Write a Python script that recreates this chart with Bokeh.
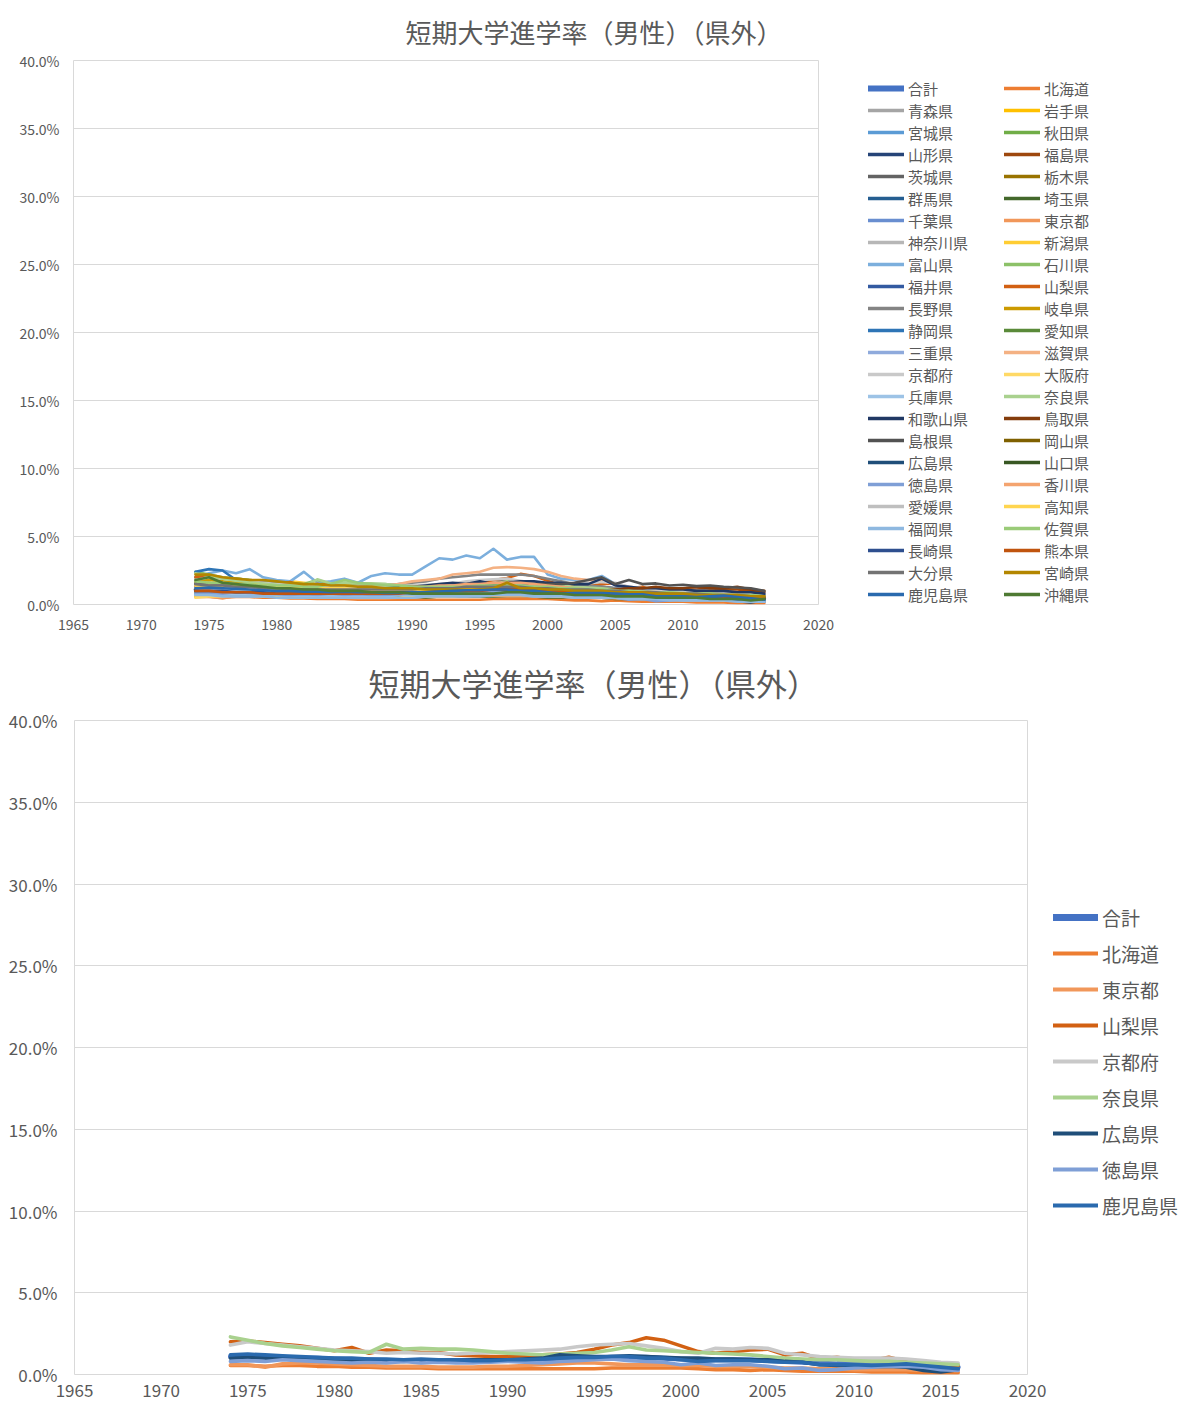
from bokeh.plotting import figure
from bokeh.models import (Legend, LegendItem, NumeralTickFormatter,
                          FixedTicker, Range1d)
from bokeh.layouts import row
from bokeh.embed import file_html
from bokeh.resources import INLINE

TITLE = "短期大学進学率（男性）（県外）"
YEARS = list(range(1974, 2017))
X_TICKS = [1965, 1970, 1975, 1980, 1985, 1990, 1995, 2000, 2005, 2010, 2015, 2020]
Y_TICKS = [0.0, 0.05, 0.10, 0.15, 0.20, 0.25, 0.30, 0.35, 0.40]

# values in percent, 1974..2016
GOUKEI = [1.1, 1.15, 1.1, 1.05, 1.0, 1.0, 0.95, 0.9, 0.9, 0.85,
          0.85, 0.85, 0.85, 0.85, 0.85, 0.85, 0.85, 0.9, 0.95, 0.95,
          1.0, 1.0, 1.05, 1.05, 1.05, 1.0, 0.95, 0.9, 0.9, 0.9,
          0.9, 0.85, 0.8, 0.75, 0.7, 0.65, 0.65, 0.6, 0.6, 0.6,
          0.55, 0.5, 0.45]
HOKKAIDO = [0.55, 0.55, 0.5, 0.55, 0.55, 0.5, 0.5, 0.45, 0.45, 0.4,
            0.4, 0.4, 0.35, 0.35, 0.35, 0.35, 0.35, 0.35, 0.35, 0.35,
            0.35, 0.35, 0.4, 0.4, 0.4, 0.4, 0.4, 0.35, 0.3, 0.3,
            0.25, 0.3, 0.25, 0.2, 0.2, 0.2, 0.2, 0.15, 0.15, 0.15,
            0.1, 0.1, 0.1]
AOMORI = [1.3, 1.2, 1.1, 1.1, 1.0, 1.0, 0.9, 0.9, 0.9, 0.8,
          0.8, 0.9, 0.9, 0.9, 0.9, 1.0, 1.0, 1.1, 1.1, 1.2,
          1.2, 1.3, 1.3, 1.3, 1.2, 1.2, 1.1, 1.1, 1.0, 1.0,
          0.9, 0.9, 0.8, 0.8, 0.7, 0.7, 0.6, 0.6, 0.6, 0.5,
          0.5, 0.5, 0.4]
IWATE = [0.9, 1.0, 1.0, 1.1, 1.0, 1.0, 0.9, 0.9, 0.9, 0.8,
         0.8, 0.8, 0.7, 0.7, 0.7, 0.8, 0.8, 0.8, 0.9, 0.9,
         0.9, 1.0, 1.0, 1.7, 1.1, 1.0, 0.9, 0.9, 0.8, 0.8,
         0.7, 0.7, 0.6, 0.6, 0.6, 0.5, 0.5, 0.5, 0.4, 0.4,
         0.4, 0.4, 0.3]
MIYAGI = [1.1, 1.0, 1.0, 0.9, 0.9, 0.8, 0.8, 0.8, 0.7, 0.7,
          0.7, 0.7, 0.7, 0.7, 0.7, 0.7, 0.8, 0.8, 0.8, 0.9,
          0.9, 0.9, 0.9, 0.9, 0.9, 0.8, 0.8, 0.7, 0.7, 0.7,
          0.6, 0.6, 0.5, 0.5, 0.4, 0.4, 0.4, 0.3, 0.3, 0.3,
          0.3, 0.2, 0.2]
AKITA = [1.5, 1.6, 1.4, 1.3, 1.3, 1.2, 1.2, 1.1, 1.1, 1.0,
         1.0, 1.0, 0.9, 0.9, 0.9, 0.9, 0.9, 1.0, 1.0, 1.0,
         1.1, 1.1, 1.1, 1.1, 1.0, 1.0, 0.9, 0.9, 0.8, 0.8,
         0.8, 0.7, 0.7, 0.6, 0.6, 0.6, 0.5, 0.5, 0.5, 0.5,
         0.4, 0.4, 0.4]
YAMAGATA = [1.2, 1.1, 1.1, 1.0, 1.0, 1.0, 0.9, 0.9, 0.9, 0.9,
            0.9, 0.9, 1.0, 1.0, 1.0, 1.1, 1.2, 1.3, 1.4, 1.5,
            1.5, 1.6, 1.5, 1.6, 1.6, 1.5, 1.5, 1.4, 1.4, 1.4,
            1.3, 1.2, 1.1, 1.1, 1.0, 1.0, 0.9, 0.9, 0.9, 0.8,
            0.8, 0.7, 0.7]
FUKUSHIMA = [1.0, 1.0, 0.9, 0.9, 0.9, 0.8, 0.8, 0.8, 0.8, 0.8,
             0.8, 0.8, 0.8, 0.8, 0.9, 0.9, 1.0, 1.0, 1.1, 1.1,
             1.2, 1.2, 1.3, 1.3, 1.3, 1.2, 1.2, 1.2, 1.1, 1.1,
             1.1, 1.1, 1.1, 1.0, 1.1, 1.2, 1.1, 1.1, 1.2, 1.1,
             1.1, 1.0, 0.9]
IBARAKI = [1.3, 1.2, 1.2, 1.1, 1.1, 1.0, 1.0, 1.0, 0.9, 0.9,
           0.9, 0.9, 1.0, 1.0, 1.0, 1.1, 1.2, 1.3, 1.4, 1.5,
           1.6, 1.7, 1.8, 1.7, 1.7, 1.6, 1.5, 1.4, 1.3, 1.3,
           1.2, 1.1, 1.0, 1.0, 0.9, 0.9, 0.9, 0.8, 0.8, 0.8,
           0.7, 0.7, 0.7]
TOCHIGI = [2.0, 2.1, 1.9, 1.9, 1.8, 1.7, 1.6, 1.5, 1.5, 1.4,
           1.4, 1.3, 1.3, 1.2, 1.2, 1.2, 1.2, 1.2, 1.3, 1.3,
           1.3, 1.3, 1.4, 1.4, 1.4, 1.3, 1.3, 1.2, 1.1, 1.1,
           1.0, 1.0, 0.9, 0.9, 0.8, 0.8, 0.8, 0.7, 0.7, 0.7,
           0.6, 0.6, 0.6]
GUNMA = [1.4, 1.3, 1.3, 1.2, 1.2, 1.1, 1.1, 1.0, 1.0, 1.0,
         1.0, 1.0, 1.0, 1.0, 1.0, 1.1, 1.1, 1.1, 1.2, 1.2,
         1.2, 1.3, 1.3, 1.3, 1.2, 1.2, 1.1, 1.1, 1.0, 1.0,
         0.9, 0.9, 0.8, 0.8, 0.7, 0.7, 0.7, 0.6, 0.6, 0.6,
         0.5, 0.5, 0.5]
SAITAMA = [0.8, 0.8, 0.8, 0.7, 0.7, 0.7, 0.6, 0.6, 0.6, 0.6,
           0.6, 0.6, 0.5, 0.5, 0.5, 0.5, 0.5, 0.5, 0.6, 0.6,
           0.6, 0.6, 0.6, 0.6, 0.6, 0.6, 0.5, 0.5, 0.5, 0.5,
           0.5, 0.4, 0.4, 0.4, 0.4, 0.4, 0.3, 0.3, 0.3, 0.3,
           0.3, 0.3, 0.3]
CHIBA = [0.9, 0.9, 0.8, 0.8, 0.8, 0.7, 0.7, 0.7, 0.6, 0.6,
         0.6, 0.6, 0.6, 0.6, 0.6, 0.6, 0.6, 0.7, 0.7, 0.7,
         0.7, 0.7, 0.8, 0.8, 0.7, 0.7, 0.7, 0.6, 0.6, 0.6,
         0.5, 0.5, 0.5, 0.4, 0.4, 0.4, 0.4, 0.3, 0.3, 0.3,
         0.3, 0.3, 0.2]
TOKYO = [0.6, 0.6, 0.45, 0.65, 0.7, 0.7, 0.65, 0.6, 0.55, 0.5,
         0.5, 0.5, 0.45, 0.45, 0.45, 0.5, 0.5, 0.55, 0.6, 0.65,
         0.7, 0.7, 0.65, 0.6, 0.6, 0.6, 0.55, 0.55, 0.5, 0.5,
         0.5, 0.45, 0.4, 0.4, 0.35, 0.35, 0.3, 0.3, 0.3, 0.3,
         0.25, 0.25, 0.25]
KANAGAWA = [0.7, 0.7, 0.7, 0.6, 0.6, 0.6, 0.6, 0.5, 0.5, 0.5,
            0.5, 0.5, 0.5, 0.5, 0.5, 0.5, 0.5, 0.6, 0.6, 0.6,
            0.6, 0.7, 0.7, 0.7, 0.7, 0.6, 0.6, 0.6, 0.5, 0.5,
            0.5, 0.5, 0.4, 0.4, 0.4, 0.4, 0.3, 0.3, 0.3, 0.3,
            0.3, 0.2, 0.2]
NIIGATA = [0.6, 0.8, 1.0, 1.8, 1.7, 1.7, 1.6, 1.7, 1.6, 1.5,
           1.6, 1.5, 1.5, 1.4, 1.3, 1.2, 1.2, 1.1, 1.1, 1.1,
           1.1, 1.2, 1.2, 1.3, 1.2, 1.2, 1.1, 1.1, 1.0, 1.0,
           1.0, 0.9, 0.9, 0.8, 0.8, 0.7, 0.7, 0.7, 0.6, 0.6,
           0.6, 0.5, 0.5]
TOYAMA = [2.0, 2.3, 2.5, 2.3, 2.6, 2.0, 1.8, 1.7, 2.4, 1.6,
          1.7, 1.9, 1.6, 2.1, 2.3, 2.2, 2.2, 2.8, 3.4, 3.3,
          3.6, 3.4, 4.1, 3.3, 3.5, 3.5, 2.2, 1.9, 1.8, 1.8,
          2.1, 1.5, 1.0, 0.9, 0.7, 0.6, 0.5, 0.45, 0.4, 0.4,
          0.35, 0.3, 0.3]
ISHIKAWA = [2.4, 2.2, 2.0, 1.9, 1.8, 1.7, 1.6, 1.6, 1.5, 1.8,
            1.5, 1.6, 1.5, 1.5, 1.5, 1.4, 1.4, 1.3, 1.3, 1.3,
            1.3, 1.3, 1.4, 1.4, 1.3, 1.3, 1.2, 1.2, 1.1, 1.1,
            1.0, 1.0, 0.9, 0.9, 0.8, 0.8, 0.8, 0.7, 0.7, 0.7,
            0.6, 0.6, 0.6]
FUKUI = [1.1, 1.1, 1.0, 1.0, 1.0, 0.9, 0.9, 0.9, 0.9, 0.8,
         0.8, 0.8, 0.8, 0.9, 0.9, 0.9, 1.0, 1.0, 1.1, 1.1,
         1.2, 1.2, 1.2, 1.2, 1.2, 1.1, 1.1, 1.0, 1.0, 1.0,
         0.9, 0.9, 0.9, 0.8, 0.8, 0.7, 0.7, 0.7, 0.7, 0.6,
         0.6, 0.6, 0.5]
YAMANASHI = [2.0, 2.05, 1.95, 1.85, 1.75, 1.6, 1.45, 1.65, 1.3, 1.5,
             1.45, 1.35, 1.35, 1.2, 1.15, 1.1, 1.1, 1.15, 1.2, 1.25,
             1.35, 1.55, 1.8, 1.95, 2.25, 2.1, 1.75, 1.4, 1.3, 1.4,
             1.5, 1.55, 1.2, 1.3, 0.95, 1.05, 0.9, 0.85, 1.05, 0.8,
             0.7, 0.6, 0.55]
NAGANO = [1.6, 1.5, 1.5, 1.4, 1.4, 1.3, 1.3, 1.2, 1.2, 1.2,
          1.2, 1.3, 1.3, 1.3, 1.4, 1.5, 1.6, 1.7, 1.9, 2.0,
          2.1, 2.2, 2.2, 2.2, 2.2, 2.1, 1.9, 1.7, 1.5, 1.4,
          1.3, 1.2, 1.1, 1.0, 1.0, 0.9, 0.9, 0.9, 0.8, 0.8,
          0.8, 0.7, 0.7]
GIFU = [1.7, 1.8, 1.7, 1.6, 1.5, 1.5, 1.4, 1.4, 1.3, 1.3,
        1.3, 1.2, 1.2, 1.2, 1.1, 1.1, 1.1, 1.1, 1.1, 1.2,
        1.2, 1.2, 1.3, 1.3, 1.3, 1.2, 1.2, 1.1, 1.1, 1.0,
        1.0, 1.0, 0.9, 0.9, 0.8, 0.8, 0.8, 0.7, 0.7, 0.7,
        0.6, 0.6, 0.6]
SHIZUOKA = [2.4, 2.6, 2.5, 1.8, 1.7, 1.6, 1.5, 1.4, 1.4, 1.3,
            1.2, 1.2, 1.1, 1.1, 1.1, 1.1, 1.0, 1.0, 1.0, 1.0,
            1.1, 1.1, 1.1, 1.1, 1.0, 1.0, 1.0, 0.9, 0.9, 0.9,
            0.8, 0.8, 0.7, 0.7, 0.6, 0.6, 0.6, 0.5, 0.5, 0.5,
            0.4, 0.4, 0.4]
AICHI = [0.9, 1.0, 0.9, 0.9, 0.8, 0.8, 0.8, 0.7, 0.7, 0.7,
         0.7, 0.7, 0.6, 0.6, 0.6, 0.6, 0.6, 0.6, 0.7, 0.7,
         0.7, 0.7, 0.8, 0.8, 0.8, 0.7, 0.7, 0.7, 0.6, 0.6,
         0.6, 0.6, 0.5, 0.5, 0.5, 0.4, 0.4, 0.4, 0.4, 0.4,
         0.4, 0.3, 0.3]
MIE = [1.0, 1.0, 0.9, 0.9, 0.9, 0.8, 0.8, 0.8, 0.8, 0.7,
       0.7, 0.7, 0.7, 0.7, 0.7, 0.8, 0.8, 0.8, 0.9, 0.9,
       0.9, 0.9, 1.0, 1.0, 0.9, 0.9, 0.9, 0.8, 0.8, 0.8,
       0.7, 0.7, 0.6, 0.6, 0.6, 0.5, 0.5, 0.5, 0.4, 0.4,
       0.4, 0.4, 0.3]
SHIGA = [1.0, 1.1, 1.2, 1.3, 1.2, 1.2, 1.1, 1.0, 1.0, 1.1,
         1.1, 1.2, 1.2, 1.3, 1.4, 1.5, 1.7, 1.8, 1.9, 2.2,
         2.3, 2.4, 2.7, 2.75, 2.7, 2.6, 2.4, 2.1, 1.9, 1.8,
         1.7, 1.5, 1.3, 1.2, 1.1, 1.0, 0.9, 0.9, 0.8, 0.8,
         0.7, 0.7, 0.6]
KYOTO = [1.8, 2.0, 1.9, 1.8, 1.7, 1.6, 1.5, 1.45, 1.4, 1.3,
         1.35, 1.3, 1.3, 1.25, 1.3, 1.35, 1.4, 1.45, 1.5, 1.55,
         1.7, 1.8, 1.85, 1.9, 1.75, 1.6, 1.4, 1.3, 1.6, 1.55,
         1.65, 1.6, 1.3, 1.2, 1.1, 1.05, 1.0, 1.0, 1.0, 0.95,
         0.85, 0.75, 0.7]
OSAKA = [0.5, 0.6, 0.6, 0.7, 0.7, 0.6, 0.6, 0.6, 0.6, 0.6,
         0.5, 0.5, 0.5, 0.5, 0.5, 0.5, 0.6, 0.6, 0.6, 0.6,
         0.7, 0.7, 0.7, 0.7, 0.7, 0.7, 0.6, 0.6, 0.6, 0.6,
         0.5, 0.5, 0.5, 0.5, 0.4, 0.4, 0.4, 0.4, 0.4, 0.3,
         0.3, 0.3, 0.3]
HYOGO = [0.8, 0.8, 0.8, 0.7, 0.7, 0.7, 0.7, 0.6, 0.6, 0.6,
         0.6, 0.6, 0.6, 0.6, 0.6, 0.7, 0.7, 0.7, 0.7, 0.8,
         0.8, 0.8, 0.9, 0.9, 0.8, 0.8, 0.8, 0.7, 0.7, 0.7,
         0.6, 0.6, 0.6, 0.5, 0.5, 0.5, 0.4, 0.4, 0.4, 0.4,
         0.3, 0.3, 0.3]
NARA = [2.3, 2.1, 1.9, 1.75, 1.65, 1.55, 1.45, 1.4, 1.35, 1.85,
        1.55, 1.6, 1.55, 1.55, 1.5, 1.4, 1.3, 1.25, 1.2, 1.25,
        1.3, 1.35, 1.5, 1.7, 1.5, 1.45, 1.4, 1.35, 1.3, 1.25,
        1.2, 1.1, 1.0, 0.95, 0.9, 0.9, 0.85, 0.8, 0.8, 0.75,
        0.7, 0.65, 0.6]
WAKAYAMA = [1.3, 1.3, 1.2, 1.2, 1.1, 1.1, 1.0, 1.0, 1.0, 1.0,
            1.0, 1.0, 1.1, 1.1, 1.2, 1.3, 1.3, 1.4, 1.5, 1.6,
            1.5, 1.7, 1.5, 1.6, 1.7, 1.7, 1.6, 1.6, 1.5, 1.5,
            1.9, 1.4, 1.3, 1.2, 1.2, 1.1, 1.1, 1.0, 1.0, 1.0,
            0.9, 0.9, 0.8]
TOTTORI = [1.1, 1.1, 1.0, 1.0, 1.0, 0.9, 0.9, 0.9, 0.9, 0.9,
           0.9, 0.9, 0.9, 1.0, 1.0, 1.0, 1.1, 1.1, 1.1, 1.2,
           1.2, 1.2, 1.3, 1.2, 1.2, 1.2, 1.1, 1.1, 1.1, 1.0,
           1.0, 1.1, 1.2, 1.2, 1.3, 1.2, 1.2, 1.3, 1.2, 1.2,
           1.3, 1.1, 1.0]
SHIMANE = [1.5, 1.4, 1.3, 1.3, 1.2, 1.2, 1.1, 1.1, 1.0, 1.0,
           1.0, 1.0, 1.1, 1.0, 1.1, 1.1, 1.2, 1.2, 1.3, 1.3,
           1.4, 1.5, 1.4, 1.5, 1.4, 1.5, 1.5, 1.5, 1.6, 1.8,
           2.0, 1.5, 1.8, 1.5, 1.55, 1.4, 1.45, 1.35, 1.4, 1.3,
           1.25, 1.2, 1.0]
OKAYAMA = [1.2, 1.2, 1.1, 1.1, 1.0, 1.0, 1.0, 1.0, 0.9, 0.9,
           0.9, 0.9, 0.9, 0.9, 0.9, 0.9, 1.0, 1.0, 1.0, 1.0,
           1.1, 1.1, 1.1, 1.1, 1.1, 1.0, 1.0, 1.0, 0.9, 0.9,
           0.9, 0.8, 0.8, 0.8, 0.7, 0.7, 0.7, 0.7, 0.6, 0.6,
           0.6, 0.6, 0.5]
HIROSHIMA = [1.0, 1.05, 1.0, 1.0, 0.95, 0.95, 0.9, 0.85, 0.8, 0.8,
             0.8, 0.85, 0.85, 0.85, 0.9, 0.9, 0.9, 0.95, 1.0, 1.2,
             1.15, 1.1, 1.1, 1.15, 1.1, 1.05, 1.0, 1.0, 0.95, 0.95,
             0.9, 0.9, 0.8, 0.75, 0.6, 0.55, 0.55, 0.5, 0.5, 0.45,
             0.25, 0.15, 0.3]
YAMAGUCHI = [1.0, 1.0, 1.0, 0.9, 0.9, 0.9, 0.8, 0.8, 0.8, 0.8,
             0.8, 0.8, 0.8, 0.8, 0.8, 0.8, 0.8, 0.9, 0.9, 0.9,
             0.9, 1.0, 1.0, 1.0, 1.0, 0.9, 0.9, 0.9, 0.8, 0.8,
             0.8, 0.7, 0.7, 0.7, 0.6, 0.6, 0.6, 0.6, 0.5, 0.5,
             0.5, 0.5, 0.4]
TOKUSHIMA = [0.8, 0.85, 0.8, 0.9, 0.85, 0.8, 0.75, 0.7, 0.75, 0.7,
             0.8, 0.7, 0.75, 0.7, 0.7, 0.75, 0.8, 0.75, 0.7, 0.8,
             0.85, 0.9, 0.95, 0.85, 0.8, 0.75, 0.6, 0.7, 0.55, 0.6,
             0.6, 0.5, 0.35, 0.4, 0.25, 0.3, 0.4, 0.45, 0.5, 0.5,
             0.45, 0.3, 0.25]
KAGAWA = [1.3, 1.4, 1.3, 1.2, 1.2, 1.1, 1.1, 1.0, 1.0, 1.0,
          1.0, 1.0, 1.0, 1.1, 1.1, 1.2, 1.3, 1.3, 1.4, 1.4,
          1.5, 1.5, 1.6, 1.6, 1.6, 1.5, 1.4, 1.3, 1.2, 1.1,
          1.0, 1.0, 0.9, 0.9, 0.8, 0.8, 0.8, 0.7, 0.7, 0.7,
          0.6, 0.6, 0.6]
EHIME = [1.2, 1.1, 1.1, 1.0, 1.0, 1.0, 0.9, 0.9, 0.9, 0.9,
         0.9, 0.9, 0.9, 1.0, 1.0, 1.0, 1.1, 1.1, 1.2, 1.2,
         1.3, 1.3, 1.3, 1.4, 1.4, 1.3, 1.2, 1.2, 1.1, 1.1,
         1.0, 1.0, 0.9, 0.9, 0.8, 0.8, 0.8, 0.7, 0.7, 0.7,
         0.6, 0.6, 0.6]
KOCHI = [1.4, 1.3, 1.3, 1.4, 1.5, 1.4, 1.3, 1.3, 1.3, 1.2,
         1.2, 1.2, 1.1, 1.1, 1.1, 1.1, 1.1, 1.1, 1.1, 1.2,
         1.2, 1.2, 1.3, 1.3, 1.2, 1.2, 1.1, 1.1, 1.0, 1.0,
         1.0, 0.9, 0.9, 0.9, 0.8, 0.8, 0.8, 0.8, 0.7, 0.7,
         0.7, 0.6, 0.6]
FUKUOKA = [0.7, 0.7, 0.6, 0.6, 0.6, 0.6, 0.5, 0.5, 0.5, 0.5,
           0.5, 0.5, 0.5, 0.5, 0.5, 0.5, 0.5, 0.6, 0.6, 0.6,
           0.6, 0.6, 0.7, 0.7, 0.7, 0.6, 0.6, 0.6, 0.5, 0.5,
           0.5, 0.5, 0.4, 0.4, 0.4, 0.3, 0.3, 0.3, 0.3, 0.3,
           0.2, 0.2, 0.2]
SAGA = [1.7, 1.6, 1.6, 1.5, 1.5, 1.4, 1.4, 1.4, 1.3, 1.3,
        1.5, 1.8, 1.6, 1.5, 1.4, 1.4, 1.3, 1.3, 1.3, 1.3,
        1.3, 1.4, 1.4, 1.4, 1.4, 1.3, 1.3, 1.2, 1.2, 1.1,
        1.1, 1.0, 1.0, 0.9, 0.9, 0.9, 0.8, 0.8, 0.8, 0.7,
        0.7, 0.7, 0.6]
NAGASAKI = [1.0, 1.0, 1.0, 0.9, 0.9, 0.9, 0.8, 0.8, 0.8, 0.8,
            0.8, 0.8, 0.8, 0.8, 0.8, 0.9, 0.9, 0.9, 1.0, 1.0,
            1.0, 1.1, 1.1, 1.1, 1.1, 1.0, 1.0, 1.0, 0.9, 0.9,
            0.9, 0.8, 0.8, 0.8, 0.7, 0.7, 0.7, 0.6, 0.6, 0.6,
            0.5, 0.5, 0.5]
KUMAMOTO = [1.0, 1.0, 0.9, 0.9, 0.9, 0.8, 0.8, 0.8, 0.8, 0.8,
            0.8, 0.8, 0.8, 0.8, 0.8, 0.8, 0.9, 0.9, 0.9, 1.0,
            1.0, 1.0, 1.1, 1.1, 1.1, 1.0, 1.0, 0.9, 0.9, 0.9,
            0.9, 0.8, 0.8, 0.8, 0.8, 0.7, 0.7, 0.7, 0.7, 0.6,
            0.6, 0.6, 0.5]
OITA = [1.5, 1.4, 1.4, 1.3, 1.3, 1.2, 1.2, 1.1, 1.1, 1.1,
        1.1, 1.1, 1.1, 1.1, 1.1, 1.1, 1.1, 1.2, 1.2, 1.2,
        1.3, 1.3, 1.3, 1.3, 1.3, 1.2, 1.2, 1.1, 1.1, 1.1,
        1.0, 1.0, 0.9, 0.9, 0.9, 0.8, 0.8, 0.8, 0.7, 0.7,
        0.7, 0.6, 0.6]
MIYAZAKI = [2.2, 2.2, 2.0, 1.9, 1.8, 1.8, 1.7, 1.6, 1.5, 1.5,
            1.4, 1.4, 1.3, 1.3, 1.2, 1.2, 1.2, 1.1, 1.1, 1.1,
            1.1, 1.1, 1.2, 1.6, 1.2, 1.2, 1.1, 1.1, 1.0, 1.0,
            1.0, 0.9, 0.9, 0.9, 0.8, 0.8, 0.8, 0.7, 0.7, 0.7,
            0.7, 0.6, 0.6]
KAGOSHIMA = [1.2, 1.25, 1.2, 1.15, 1.1, 1.05, 1.0, 1.0, 0.95, 0.95,
             0.9, 0.95, 0.9, 0.9, 0.85, 0.85, 0.9, 0.9, 0.95, 1.0,
             1.05, 1.05, 1.1, 1.1, 1.0, 1.0, 0.9, 0.8, 0.85, 0.85,
             0.85, 0.8, 0.75, 0.75, 0.6, 0.6, 0.6, 0.55, 0.6, 0.65,
             0.55, 0.45, 0.35]
OKINAWA = [1.8, 2.0, 1.6, 1.5, 1.4, 1.3, 1.2, 1.2, 1.1, 1.1,
           1.0, 1.0, 1.0, 0.9, 0.9, 0.9, 0.8, 0.8, 0.8, 0.8,
           0.8, 0.8, 0.8, 0.9, 0.9, 0.8, 0.8, 0.8, 0.7, 0.7,
           0.7, 0.6, 0.6, 0.6, 0.5, 0.5, 0.5, 0.5, 0.4, 0.4,
           0.4, 0.3, 0.4]

SERIES_NAMES = ["合計", "北海道", "青森県", "岩手県", "宮城県", "秋田県", "山形県", "福島県",
                "茨城県", "栃木県", "群馬県", "埼玉県", "千葉県", "東京都", "神奈川県", "新潟県",
                "富山県", "石川県", "福井県", "山梨県", "長野県", "岐阜県", "静岡県", "愛知県",
                "三重県", "滋賀県", "京都府", "大阪府", "兵庫県", "奈良県", "和歌山県", "鳥取県",
                "島根県", "岡山県", "広島県", "山口県", "徳島県", "香川県", "愛媛県", "高知県",
                "福岡県", "佐賀県", "長崎県", "熊本県", "大分県", "宮崎県", "鹿児島県", "沖縄県"]
SERIES_VALUES = [GOUKEI, HOKKAIDO, AOMORI, IWATE, MIYAGI, AKITA, YAMAGATA, FUKUSHIMA,
                 IBARAKI, TOCHIGI, GUNMA, SAITAMA, CHIBA, TOKYO, KANAGAWA, NIIGATA,
                 TOYAMA, ISHIKAWA, FUKUI, YAMANASHI, NAGANO, GIFU, SHIZUOKA, AICHI,
                 MIE, SHIGA, KYOTO, OSAKA, HYOGO, NARA, WAKAYAMA, TOTTORI,
                 SHIMANE, OKAYAMA, HIROSHIMA, YAMAGUCHI, TOKUSHIMA, KAGAWA, EHIME, KOCHI,
                 FUKUOKA, SAGA, NAGASAKI, KUMAMOTO, OITA, MIYAZAKI, KAGOSHIMA, OKINAWA]
SERIES_COLORS = ["#4472C4", "#ED7D31", "#A5A5A5", "#FFC000", "#5B9BD5", "#70AD47", "#264478", "#9E480E",
                 "#636363", "#997300", "#255E91", "#43682B", "#698ED0", "#F1975A", "#B7B7B7", "#FFCD33",
                 "#7CAFDD", "#8CC168", "#335AA1", "#D26012", "#848484", "#CC9A00", "#2E75B6", "#5A8A39",
                 "#8FAADC", "#F4B183", "#C9C9C9", "#FFD966", "#9DC3E6", "#A9D18E", "#203864", "#843C0C",
                 "#525252", "#7F6000", "#1F4E79", "#385723", "#7F9FD6", "#F4A46F", "#BFBFBF", "#FFD54F",
                 "#8EB8E0", "#9ACB78", "#2E4F8F", "#C0540E", "#737373", "#B38600", "#2A6AAE", "#4E7A33"]
SUBSET = ["合計", "北海道", "東京都", "山梨県", "京都府", "奈良県", "広島県", "徳島県", "鹿児島県"]

FONT = "Noto Sans CJK JP"
GREY_TXT = "#595959"


def chart_fig(width, height, left, right, top, bottom, tick_px, standoff_x, standoff_y,
              title_px, title_offset, title_standoff, title_valign):
    p = figure(width=width, height=height, output_backend="svg", toolbar_location=None,
               x_range=Range1d(1965, 2020), y_range=Range1d(0, 0.40),
               min_border_left=left, min_border_right=right,
               min_border_top=top, min_border_bottom=bottom)
    p.title.text = TITLE
    p.title.align = "left"
    p.title.vertical_align = title_valign
    p.title.offset = title_offset
    p.title.standoff = title_standoff
    p.title.text_font = FONT
    p.title.text_font_size = title_px
    p.title.text_font_style = "normal"
    p.title.text_color = GREY_TXT
    p.xaxis.ticker = FixedTicker(ticks=X_TICKS)
    p.yaxis.ticker = FixedTicker(ticks=Y_TICKS)
    p.yaxis.formatter = NumeralTickFormatter(format="0.0%")
    for ax in (p.xaxis, p.yaxis):
        ax.axis_line_color = None
        ax.major_tick_line_color = None
        ax.minor_tick_line_color = None
        ax.major_tick_out = 0
        ax.major_tick_in = 0
        ax.minor_tick_out = 0
        ax.minor_tick_in = 0
        ax.major_label_text_font = FONT
        ax.major_label_text_font_size = tick_px
        ax.major_label_text_color = GREY_TXT
    p.xaxis.major_label_standoff = standoff_x
    p.yaxis.major_label_standoff = standoff_y
    p.xgrid.grid_line_color = None
    p.ygrid.grid_line_color = "#D9D9D9"
    p.ygrid.grid_line_width = 1
    p.outline_line_color = "#D9D9D9"
    p.outline_line_width = 1
    p.background_fill_color = "white"
    p.border_fill_color = "white"
    return p


def legend_fig(width, height, top, bottom):
    f = figure(width=width, height=height, output_backend="svg", toolbar_location=None,
               x_range=Range1d(0, 1), y_range=Range1d(0, 1),
               x_axis_location=None, y_axis_location=None,
               min_border_left=0, min_border_right=0,
               min_border_top=top, min_border_bottom=bottom)
    f.outline_line_color = None
    f.grid.visible = False
    f.background_fill_color = "white"
    f.border_fill_color = "white"
    return f


def make_legend(items, loc, glyph_w, row_h, font_px):
    return Legend(items=items, location=loc, orientation="vertical",
                  glyph_width=glyph_w, glyph_height=row_h, label_height=row_h,
                  spacing=0, padding=0, margin=0, label_standoff=4,
                  label_text_font=FONT, label_text_font_size=font_px,
                  label_text_color=GREY_TXT, border_line_color=None,
                  background_fill_alpha=0)


# ---------------- top chart ----------------
p1 = chart_fig(835, 640, 73, 17, 60, 36, "14px", 14, 14, "26px", 332, 20, "middle")
l1 = legend_fig(344, 640, 60, 36)
legend_renderers = []
for name, vals, col in zip(SERIES_NAMES, SERIES_VALUES, SERIES_COLORS):
    lw = 3.6 if name == "合計" else 2.6
    p1.line(YEARS[:len(vals)], [v / 100 for v in vals], line_color=col, line_width=lw,
            line_join="round", line_cap="round")
    lr = l1.line([0, 1], [-5, -5], line_color=col, line_width=6 if name == "合計" else 3.5,
                 line_cap="round")
    legend_renderers.append(lr)

left_items = [LegendItem(label=SERIES_NAMES[i], renderers=[legend_renderers[i]]) for i in range(0, 48, 2)]
right_items = [LegendItem(label=SERIES_NAMES[i], renderers=[legend_renderers[i]]) for i in range(1, 48, 2)]
l1.add_layout(make_legend(left_items, (33, -1), 36, 22, "15px"))
l1.add_layout(make_legend(right_items, (169, -1), 36, 22, "15px"))

# ---------------- bottom chart ----------------
p2 = chart_fig(1047, 768, 74, 20, 80, 34, "17px", 9, 17, "31px", 294, 31, "bottom")
l2 = legend_fig(132, 768, 80, 34)
items2 = []
for name in SUBSET:
    i = SERIES_NAMES.index(name)
    vals = SERIES_VALUES[i]
    lw = 5 if name == "合計" else 3.6
    p2.line(YEARS[:len(vals)], [v / 100 for v in vals], line_color=SERIES_COLORS[i],
            line_width=lw, line_join="round", line_cap="round")
    lr = l2.line([0, 1], [-5, -5], line_color=SERIES_COLORS[i],
                 line_width=7 if name == "合計" else 4, line_cap="round")
    items2.append(LegendItem(label=name, renderers=[lr]))

l2.add_layout(make_legend(items2, (6, 151), 45, 36, "19px"))

open("out.html", "w").write(file_html([row(p1, l1), row(p2, l2)], INLINE))
